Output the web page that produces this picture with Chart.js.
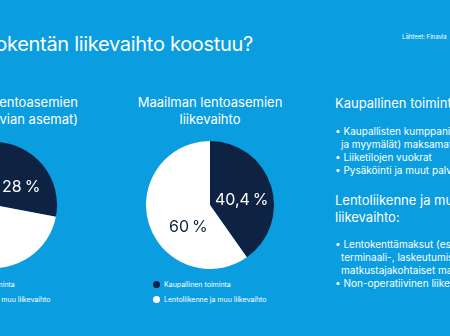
<!DOCTYPE html>
<html lang="fi">
<head>
<meta charset="utf-8">
<script src="https://cdn.jsdelivr.net/npm/chart.js@4.4.1/dist/chart.umd.min.js"></script>
<style>
  html, body { margin: 0; padding: 0; }
  body {
    width: 450px; height: 336px; overflow: hidden; position: relative;
    background: #0a9ddf; color: #fff; font-family: Inter, "Noto Sans", sans-serif;
  }
  .abs { position: absolute; white-space: nowrap; }
  .title { right: 197px; top: 30px; font-size: 20px; line-height: 28px; font-weight: 400; letter-spacing: -0.3px; }
  .source { left: 402px; top: 33px; font-size: 6px; line-height: 8px; }
  .heading { font-size: 13px; line-height: 17px; }
  .heading.mid { left: 110px; width: 200px; top: 94px; text-align: center; }
  .heading.left { right: 372px; top: 94px; text-align: right; }
  .heading.right { left: 335px; }
  canvas { position: absolute; }
  .legend { position: absolute; font-size: 7px; line-height: 15px; white-space: nowrap; }
  .legend div { display: flex; align-items: center; }
  .legend span.dot { width: 7px; height: 7px; border-radius: 50%; margin-right: 4px; display: inline-block; }
  .list { left: 335px; font-size: 10px; line-height: 13px; }
  .list .b { display: block; padding-left: 6px; text-indent: -6px; }
</style>
</head>
<body>

<div class="abs title">Mistä lentokentän liikevaihto koostuu?</div>
<div class="abs source">Lähteet: Finavia</div>

<div class="abs heading left">Suomen lentoasemien<br>liikevaihto (Finavian asemat)</div>
<div class="abs heading mid">Maailman lentoasemien<br>liikevaihto</div>

<canvas id="finaviaChart" width="126" height="126" style="left:-69px; top:142px;"></canvas>
<canvas id="worldChart" width="128" height="128" style="left:146px; top:141px;"></canvas>

<div class="legend" id="finaviaLegend" style="left:-63px; top:277px;"></div>
<div class="legend" id="worldLegend" style="left:153px; top:277px;"></div>

<div class="abs heading right" style="top:95px;">Kaupallinen toiminta:</div>
<div class="abs list" style="top:125px;">
  <span class="b">• Kaupallisten kumppanien (esim. ravintolat<br>ja myymälät) maksamat vuokrat</span>
  <span class="b">• Liiketilojen vuokrat</span>
  <span class="b">• Pysäköinti ja muut palvelut</span>
</div>

<div class="abs heading right" style="top:192px;">Lentoliikenne ja muu<br>liikevaihto:</div>
<div class="abs list" style="top:238px;">
  <span class="b">• Lentokenttämaksut (esim.<br>terminaali-, laskeutumis- ja<br>matkustajakohtaiset maksut)</span>
  <span class="b">• Non-operatiivinen liikevaihto</span>
</div>

<script>
"use strict";

// Data
const categories = ["Kaupallinen toiminta", "Lentoliikenne ja muu liikevaihto"];
const finaviaShares = [28, 72];
const worldShares = [40.4, 60];

const sliceColors = ["#0e2343", "#ffffff"];
const labelColors = ["#ffffff", "#0e2343"];

// 40.4 -> "40,4 %"
function formatShare(v) {
  return String(v).replace(".", ",") + "\u2009%";
}

// Prosenttiluvut siivujen päälle
const sliceLabels = {
  id: "sliceLabels",
  afterDatasetsDraw(chart, args, opts) {
    const ctx = chart.ctx;
    const meta = chart.getDatasetMeta(0);
    const values = chart.data.datasets[0].data;
    ctx.save();
    ctx.font = opts.font;
    ctx.textAlign = "center";
    ctx.textBaseline = "middle";
    meta.data.forEach((arc, i) => {
      const p = arc.getProps(["x", "y", "startAngle", "endAngle", "outerRadius"], true);
      const mid = (p.startAngle + p.endAngle) / 2;
      const r = p.outerRadius * opts.radius;
      const shift = opts.shift[i] || [0, 0];
      ctx.fillStyle = opts.colors[i];
      ctx.fillText(formatShare(values[i]),
        p.x + Math.cos(mid) * r + shift[0],
        p.y + Math.sin(mid) * r + shift[1]);
    });
    ctx.restore();
  }
};

function makePie(id, values, shift) {
  const ctx = document.getElementById(id).getContext("2d");
  return new Chart(ctx, {
    type: "pie",
    data: {
      labels: categories,
      datasets: [{
        data: values,
        backgroundColor: sliceColors,
        borderWidth: 0
      }]
    },
    options: {
      responsive: false,
      animation: false,
      layout: { padding: 0 },
      plugins: {
        legend: { display: false },
        tooltip: { enabled: false },
        sliceLabels: {
          font: "400 16px Inter, 'Noto Sans', sans-serif",
          radius: 0.52,
          colors: labelColors,
          shift: shift
        }
      }
    },
    plugins: [sliceLabels]
  });
}

function renderLegend(id) {
  const box = document.getElementById(id);
  box.innerHTML = categories.map((name, i) =>
    `<div><span class="dot" style="background:${sliceColors[i]}"></span>${name}</div>`
  ).join("");
}

makePie("finaviaChart", finaviaShares, [[2, 3], [0, 0]]);
makePie("worldChart", worldShares, [[0, 5], [10, 12]]);
renderLegend("finaviaLegend");
renderLegend("worldLegend");
</script>
</body>
</html>
